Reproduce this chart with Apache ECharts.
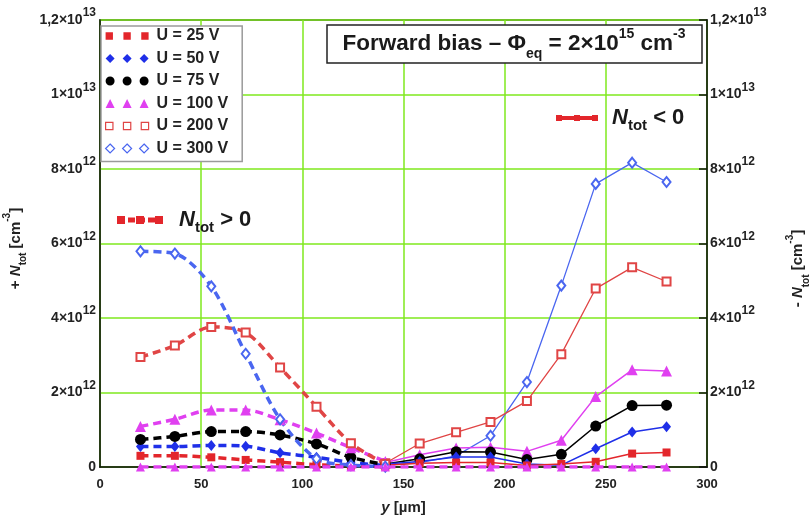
<!DOCTYPE html>
<html><head><meta charset="utf-8">
<script src="https://cdn.jsdelivr.net/npm/echarts@6/dist/echarts.min.js"></script>
<style>html,body{margin:0;padding:0;background:#fff}#c{width:810px;height:525px}</style>
</head><body><div id="c"></div>
<script>
// depth positions y [µm]
const yPositions = [20, 37, 55, 72, 89, 107, 124, 141, 158, 176, 193, 211, 228, 245, 263, 280];
const xLeft = yPositions.slice(0, 8);
const xRight = yPositions.slice(7);

// N_tot > 0 (dashed), units of 1e12 cm^-3, at xLeft
const pos25  = [0.30, 0.30, 0.26, 0.19, 0.13, 0.06, 0.03, 0.01];
const pos50  = [0.55, 0.55, 0.58, 0.56, 0.38, 0.26, 0.12, 0.04];
const pos75  = [0.74, 0.82, 0.95, 0.95, 0.86, 0.62, 0.26, 0.06];
const pos100 = [1.09, 1.28, 1.53, 1.53, 1.27, 0.91, 0.52, 0.15];
const pos200 = [2.95, 3.26, 3.76, 3.61, 2.67, 1.62, 0.64, 0.08];
const pos300 = [5.79, 5.73, 4.85, 3.04, 1.28, 0.22, 0.05, 0.01];

// -N_tot (N_tot < 0, solid), units of 1e12 cm^-3, at xRight
const neg25  = [0.05, 0.10, 0.12, 0.12, 0.04, 0.08, 0.14, 0.36, 0.39];
const neg50  = [0.08, 0.15, 0.27, 0.27, 0.08, 0.05, 0.49, 0.94, 1.08];
const neg75  = [0.08, 0.22, 0.41, 0.40, 0.20, 0.34, 1.10, 1.65, 1.66];
const neg100 = [0.12, 0.33, 0.51, 0.53, 0.42, 0.72, 1.89, 2.61, 2.58];
const neg200 = [0.10, 0.63, 0.93, 1.21, 1.77, 3.03, 4.79, 5.36, 4.98];
const neg300 = [0.05, 0.12, 0.30, 0.84, 2.28, 4.87, 7.60, 8.17, 7.65];

// zero-level line across the full depth
const zeroLine = [0, 0, 0, 0, 0, 0, 0, 0, 0, 0, 0, 0, 0, 0, 0, 0];

const seriesNames = ['U = 25 V', 'U = 50 V', 'U = 75 V', 'U = 100 V', 'U = 200 V', 'U = 300 V'];
const yTickMain = ['0', '2×10', '4×10', '6×10', '8×10', '1×10', '1,2×10'];
const yTickExp  = ['', '12', '12', '12', '12', '13', '13'];

const FONT = 'Liberation Sans, Arial, sans-serif';
const C = {
  u25: '#e3262b', u50: '#1f2fe8', u75: '#000000', u100: '#e040f0', u200: '#e04545', u300: '#4a66f0'
};
const styles = [
  {c: C.u25,  sym: 'rect',         size: 8,       lw: 1.5},
  {c: C.u50,  sym: 'diamond',      size: [9, 11], lw: 1.5},
  {c: C.u75,  sym: 'circle',       size: 11,      lw: 1.5},
  {c: C.u100, sym: 'triangle',     size: 11,      lw: 1.5},
  {c: C.u200, sym: 'emptyRect',    size: 8,       lw: 1.3},
  {c: C.u300, sym: 'emptyDiamond', size: [8, 10], lw: 1.3}
];
const posArr = [pos25, pos50, pos75, pos100, pos200, pos300];
const negArr = [neg25, neg50, neg75, neg100, neg200, neg300];

const pair = (xs, vs) => xs.map((x, i) => [x, vs[i]]);

const series = [];
// solid (N_tot < 0), drawn first
[5, 4, 3, 2, 1, 0].forEach(k => {
  const s = styles[k];
  series.push({
    name: seriesNames[k], type: 'line', yAxisIndex: 1,
    data: pair(xRight, negArr[k]),
    symbol: s.sym, symbolSize: s.size,
    lineStyle: {color: s.c, width: s.lw},
    itemStyle: {color: s.c, borderWidth: (k >= 4 ? 1.2 : 0)},
    z: 3
  });
});
// dashed (N_tot > 0)
[0, 1, 2, 3, 4, 5].forEach(k => {
  const s = styles[k];
  series.push({
    name: seriesNames[k], type: 'line', yAxisIndex: 0,
    data: pair(xLeft, posArr[k]),
    smooth: 0.3,
    symbol: s.sym, symbolSize: s.size,
    lineStyle: {color: s.c, width: 3.5, type: [8, 5]},
    itemStyle: {color: s.c, borderWidth: (k >= 4 ? 1.2 : 0)},
    z: 4
  });
});
// zero line (magenta dashed)
series.push({
  name: 'U = 100 V', type: 'line', yAxisIndex: 0,
  data: pair(yPositions, zeroLine),
  symbol: 'triangle', symbolSize: 9,
  lineStyle: {color: C.u100, width: 3.5, type: [8, 5]},
  itemStyle: {color: C.u100},
  z: 5
});

const icons = {
  rect: 'path://M1,1h7v7h-7z M18,1h7v7h-7z M35,1h7v7h-7z',
  diamond: 'path://M4.5,0L9,4.5L4.5,9L0,4.5Z M21.5,0L26,4.5L21.5,9L17,4.5Z M38.5,0L43,4.5L38.5,9L34,4.5Z',
  circle: 'path://M0,4.5a4.5,4.5 0 1,0 9,0a4.5,4.5 0 1,0 -9,0Z M17,4.5a4.5,4.5 0 1,0 9,0a4.5,4.5 0 1,0 -9,0Z M34,4.5a4.5,4.5 0 1,0 9,0a4.5,4.5 0 1,0 -9,0Z',
  triangle: 'path://M4.5,0L9,9L0,9Z M21.5,0L26,9L17,9Z M38.5,0L43,9L34,9Z'
};
const legendData = [
  {name: seriesNames[0], icon: icons.rect, itemStyle: {color: C.u25, borderWidth: 0}},
  {name: seriesNames[1], icon: icons.diamond, itemStyle: {color: C.u50, borderWidth: 0}},
  {name: seriesNames[2], icon: icons.circle, itemStyle: {color: C.u75, borderWidth: 0}},
  {name: seriesNames[3], icon: icons.triangle, itemStyle: {color: C.u100, borderWidth: 0}},
  {name: seriesNames[4], icon: icons.rect, itemStyle: {color: '#fff', borderColor: C.u200, borderWidth: 1.2}},
  {name: seriesNames[5], icon: icons.diamond, itemStyle: {color: '#fff', borderColor: C.u300, borderWidth: 1.2}}
];

const yLabel = v => {
  const i = Math.round(v / 2);
  return yTickExp[i] ? '{m|' + yTickMain[i] + '}{s|' + yTickExp[i] + '}' : '{m|' + yTickMain[i] + '}';
};
const yRich = {
  m: {fontSize: 14, fontWeight: 'bold', fontFamily: FONT, color: '#222', lineHeight: 26},
  s: {fontSize: 12, fontWeight: 'bold', fontFamily: FONT, color: '#222', lineHeight: 12, verticalAlign: 'top'}
};
const nameRich = {
  n: {fontSize: 15, fontWeight: 'bold', fontStyle: 'italic', fontFamily: FONT, color: '#222', lineHeight: 26},
  b: {fontSize: 10, fontWeight: 'bold', fontFamily: FONT, color: '#222', lineHeight: 12, verticalAlign: 'bottom'},
  p: {fontSize: 10, fontWeight: 'bold', fontFamily: FONT, color: '#222', lineHeight: 16, verticalAlign: 'top'}
};

const option = {
  animation: false,
  backgroundColor: '#fff',
  grid: {left: 100, right: 103, top: 20, bottom: 58, containLabel: false, outerBoundsMode: 'none',
    show: true, borderColor: '#111', borderWidth: 1.5, backgroundColor: 'transparent'},
  legend: {
    show: true, orient: 'vertical', left: 101, top: 26,
    data: legendData,
    itemWidth: 43, itemHeight: 9, itemGap: 6.5,
    selectedMode: false,
    backgroundColor: '#fff', borderColor: '#9a9a9a', borderWidth: 1.5, borderRadius: 0,
    padding: [2, 14, 5, 4],
    textStyle: {fontSize: 16, fontWeight: 'bold', fontFamily: FONT, color: '#222', padding: [0, 0, 0, 3]},
    z: 20
  },
  xAxis: {
    type: 'value', min: 0, max: 300, interval: 50,
    name: '{i|y} [µm]', nameLocation: 'middle', nameGap: 33,
    nameTextStyle: {fontSize: 15, fontWeight: 'bold', fontFamily: FONT, color: '#222',
      rich: {i: {fontSize: 15, fontStyle: 'italic', fontWeight: 'bold', fontFamily: FONT, color: '#222'}}},
    axisLine: {show: true, lineStyle: {color: '#111', width: 1.5}},
    axisTick: {show: false},
    axisLabel: {fontSize: 13, fontWeight: 'bold', fontFamily: FONT, color: '#222', margin: 11},
    splitLine: {show: true, lineStyle: {color: '#7fe81e', width: 1.5}}
  },
  yAxis: [
    {
      type: 'value', min: 0, max: 12, interval: 2, position: 'left',
      name: '+ {n|N}{b|tot} [cm{p|-3}]', nameLocation: 'middle', nameGap: 62, nameRotate: 90,
      nameTextStyle: {fontSize: 15, fontWeight: 'bold', fontFamily: FONT, color: '#222', lineHeight: 26,
        rich: nameRich, padding: [0, 10, 0, 0]},
      axisLine: {show: true, lineStyle: {color: '#111', width: 1.5}},
      axisTick: {show: false},
      axisLabel: {formatter: yLabel, rich: yRich, margin: 4},
      splitLine: {show: true, lineStyle: {color: '#7fe81e', width: 1.5}}
    },
    {
      type: 'value', min: 0, max: 12, interval: 2, position: 'right',
      name: '- {n|N}{b|tot} [cm{p|-3}]', nameLocation: 'middle', nameGap: 78, nameRotate: 90,
      nameTextStyle: {fontSize: 15, fontWeight: 'bold', fontFamily: FONT, color: '#222', lineHeight: 26,
        rich: nameRich, padding: [0, 50, 0, 0]},
      axisLine: {show: true, lineStyle: {color: '#111', width: 1.5}},
      axisTick: {show: true, inside: true, length: 8, lineStyle: {color: '#111', width: 1.5}},
      axisLabel: {formatter: yLabel, rich: yRich, margin: 3},
      splitLine: {show: false}
    }
  ],
  graphic: [
    {type: 'rect', z: 30, shape: {x: 327, y: 25, width: 375, height: 38},
      style: {fill: '#fff', stroke: '#222', lineWidth: 1.5}},
    {type: 'text', z: 31, x: 514, y: 44,
      style: {
        text: 'Forward bias – Φ{b|eq} = 2×10{p|15} cm{p|-3}',
        fontSize: 22.5, fontWeight: 'bold', fontFamily: FONT, fill: '#1a1a1a', lineHeight: 34,
        align: 'center', verticalAlign: 'middle',
        rich: {
          b: {fontSize: 14, fontWeight: 'bold', fontFamily: FONT, fill: '#1a1a1a', lineHeight: 14, verticalAlign: 'bottom'},
          p: {fontSize: 14, fontWeight: 'bold', fontFamily: FONT, fill: '#1a1a1a', lineHeight: 24, verticalAlign: 'top'}
        }
      }},
    // N_tot > 0 marker
    {type: 'line', z: 30, shape: {x1: 118, y1: 220, x2: 162, y2: 220},
      style: {stroke: C.u25, lineWidth: 5, lineDash: [7, 3]}},
    {type: 'rect', z: 31, shape: {x: 117, y: 216, width: 8, height: 8}, style: {fill: C.u25}},
    {type: 'rect', z: 31, shape: {x: 136, y: 216, width: 8, height: 8}, style: {fill: C.u25}},
    {type: 'rect', z: 31, shape: {x: 155, y: 216, width: 8, height: 8}, style: {fill: C.u25}},
    {type: 'text', z: 31, x: 179, y: 220,
      style: {
        text: '{n|N}{b|tot} > 0',
        fontSize: 22, fontWeight: 'bold', fontFamily: FONT, fill: '#1a1a1a', lineHeight: 30,
        align: 'left', verticalAlign: 'middle',
        rich: {
          n: {fontSize: 22, fontWeight: 'bold', fontStyle: 'italic', fontFamily: FONT, fill: '#1a1a1a', lineHeight: 30},
          b: {fontSize: 15, fontWeight: 'bold', fontFamily: FONT, fill: '#1a1a1a', lineHeight: 14, verticalAlign: 'bottom'}
        }
      }},
    // N_tot < 0 marker
    {type: 'line', z: 30, shape: {x1: 557, y1: 118, x2: 598, y2: 118},
      style: {stroke: C.u25, lineWidth: 4}},
    {type: 'rect', z: 31, shape: {x: 556, y: 115, width: 6, height: 6}, style: {fill: C.u25}},
    {type: 'rect', z: 31, shape: {x: 574, y: 115, width: 6, height: 6}, style: {fill: C.u25}},
    {type: 'rect', z: 31, shape: {x: 592, y: 115, width: 6, height: 6}, style: {fill: C.u25}},
    {type: 'text', z: 31, x: 612, y: 118,
      style: {
        text: '{n|N}{b|tot} < 0',
        fontSize: 22, fontWeight: 'bold', fontFamily: FONT, fill: '#1a1a1a', lineHeight: 30,
        align: 'left', verticalAlign: 'middle',
        rich: {
          n: {fontSize: 22, fontWeight: 'bold', fontStyle: 'italic', fontFamily: FONT, fill: '#1a1a1a', lineHeight: 30},
          b: {fontSize: 15, fontWeight: 'bold', fontFamily: FONT, fill: '#1a1a1a', lineHeight: 14, verticalAlign: 'bottom'}
        }
      }}
  ],
  series: series
};

const chart = echarts.init(document.getElementById('c'), null, {renderer: 'canvas'});
chart.setOption(option);
</script>
</body></html>
